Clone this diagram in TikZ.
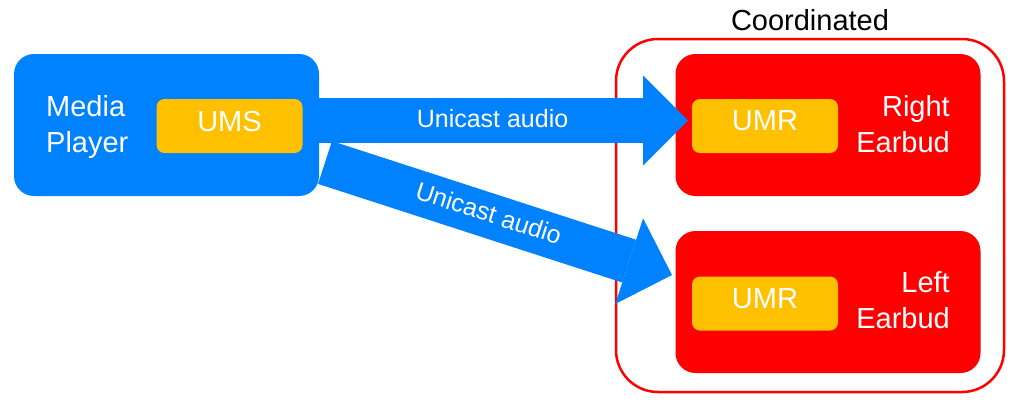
\documentclass[tikz,border=0pt]{standalone}
\usepackage{fontspec}
\setmainfont{Liberation Sans}
\usetikzlibrary{arrows.meta}
\usetikzlibrary{positioning}
\definecolor{playerblue}{RGB}{0,130,255}
\definecolor{umsorange}{RGB}{255,192,0}
\definecolor{budred}{RGB}{255,0,0}
\tikzset{
	device/.style={rounded corners=20pt, minimum width=305pt, minimum height=142pt, inner sep=0pt},
	unit/.style={fill=umsorange, rounded corners=8pt, minimum width=146pt, minimum height=54pt, inner sep=0pt, text=white, text depth=10pt, font=\fontsize{29}{36}\selectfont},
	devlabel/.style={text=white, inner sep=0pt, font=\fontsize{29}{36}\selectfont},
	audio/.style={draw=playerblue, line width=45pt, -{Triangle[length=45pt, width=90pt, line width=0pt]}},
	audiolabel/.style={text=white, inner sep=0pt, text depth=5pt, font=\fontsize{25}{30}\selectfont},
}
\begin{document}
\begin{tikzpicture}[x=1pt, y=-1pt]
				\useasboundingbox (0,0) rectangle (1034,405);
				\node[device, fill=playerblue] (player) at (166.5,125) {};
				\node[devlabel, align=left, anchor=west] (playername) at (46,127) {Media\\Player};
				\node[unit] (ums) at (229.5,126) {UMS};
				
				\node[draw=budred, line width=2.5pt, rounded corners=42pt, minimum width=388pt, minimum height=353pt] (coord) at (810,215.5) {};
				\node[anchor=base, inner sep=0pt, font=\fontsize{29}{36}\selectfont] (coordname) at ([yshift=7pt]coord.north) {Coordinated};
				
				\node[device, fill=budred] (right) at (828,125) {};
				\node[unit] (umrR) at (765,126) {UMR};
				\node[devlabel, align=right, anchor=east] (rightname) at (950,124) {Right\\Earbud};
				\node[device, fill=budred] (left) at (828,302) {};
				\node[unit] (umrL) at (765,303.5) {UMR};
				\node[devlabel, align=right, anchor=east] (leftname) at (950,300.5) {Left\\Earbud};
				
				\coordinate (tipR) at (688,120.5);
				\coordinate (tailL) at (325,162.5);
				\coordinate (tipL) at (672,275);
				\draw[audio] (player.east |- tipR) -- (tipR) node[audiolabel, pos=.47] {Unicast audio};
				\draw[audio] (tailL) -- (tipL) node[audiolabel, pos=.47, sloped] {Unicast audio};
			\end{tikzpicture}
\end{document}
